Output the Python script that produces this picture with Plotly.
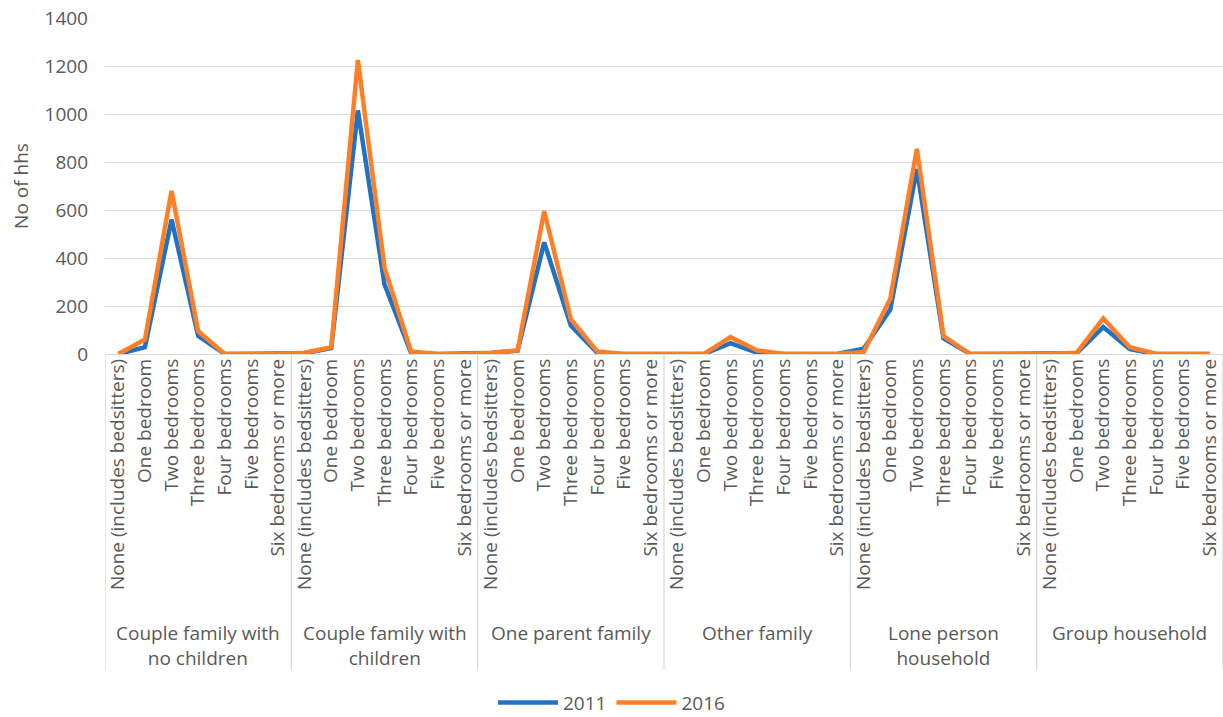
import plotly.graph_objects as go

groups = ["Couple family with<br>no children", "Couple family with<br>children", "One parent family",
          "Other family", "Lone person<br>household", "Group household"]
bedrooms = ["None (includes bedsitters)", "One bedroom", "Two bedrooms", "Three bedrooms",
            "Four bedrooms", "Five bedrooms", "Six bedrooms or more"]

hh_2011 = [0, 28, 560, 75, 0, 0, 0,
           3, 25, 1015, 290, 4, 0, 0,
           4, 14, 465, 118, 4, 0, 0,
           0, 0, 45, 5, 0, 0, 0,
           22, 185, 770, 65, 0, 0, 0,
           0, 3, 112, 20, 0, 0, 0]
hh_2016 = [0, 60, 680, 95, 0, 0, 0,
           5, 28, 1225, 360, 10, 0, 0,
           5, 15, 595, 145, 10, 0, 0,
           0, 0, 70, 15, 0, 0, 0,
           8, 230, 855, 75, 0, 0, 0,
           0, 5, 148, 28, 0, 0, 0]

y_ticks = [0, 200, 400, 600, 800, 1000, 1200, 1400]

n_inner = len(bedrooms)
x_idx = list(range(len(groups) * n_inner))
tick_text = bedrooms * len(groups)

FONT = "Open Sans"
GREY = "#595959"

fig = go.Figure()
fig.add_trace(go.Scatter(x=x_idx, y=hh_2011, mode="lines", name="2011",
                         line=dict(color="#1F72C4", width=4.5)))
fig.add_trace(go.Scatter(x=x_idx, y=hh_2016, mode="lines", name="2016",
                         line=dict(color="#FF7F27", width=4.5)))

shapes = []
for g in range(len(groups) + 1):
    xb = g * n_inner - 0.5
    shapes.append(dict(type="line", xref="x", yref="paper", x0=xb, x1=xb, y0=0, y1=-0.94,
                       line=dict(color="#d9d9d9", width=1.3)))

annotations = []
for g, name in enumerate(groups):
    annotations.append(dict(xref="x", yref="paper", x=g * n_inner + (n_inner - 1) / 2, y=-0.785,
                            text=name, showarrow=False, yanchor="top", xanchor="center",
                            font=dict(family=FONT, size=19, color=GREY)))

fig.update_layout(
    width=1223, height=717,
    margin=dict(l=105, r=0, t=18, b=363, autoexpand=False),
    plot_bgcolor="white", paper_bgcolor="white",
    font=dict(family=FONT, size=19, color=GREY),
    shapes=shapes, annotations=annotations,
    showlegend=True,
    legend=dict(orientation="h", xref="container", yref="container", x=0.5, xanchor="center",
                y=0.02, yanchor="middle", font=dict(family=FONT, size=19, color=GREY),
                itemwidth=60, tracegroupgap=0),
)
fig.update_xaxes(range=[-0.5, len(x_idx) - 0.5], tickmode="array", tickvals=x_idx, ticktext=tick_text,
                 tickangle=-90, showgrid=False, zeroline=False, showline=False, ticks="",
                 tickfont=dict(family=FONT, size=19, color=GREY), automargin=False)
fig.update_yaxes(range=[0, 1400], tickmode="array", tickvals=y_ticks, showgrid=True, gridcolor="#d9d9d9",
                 gridwidth=1.3, zeroline=True, zerolinecolor="#d9d9d9", zerolinewidth=1.3, showline=False,
                 ticks="", ticklen=0, ticklabelstandoff=16, tickfont=dict(family=FONT, size=19, color=GREY),
                 title=dict(text="No of hhs", font=dict(family=FONT, size=19, color=GREY), standoff=10),
                 automargin=False)

fig.write_html("out.html")
